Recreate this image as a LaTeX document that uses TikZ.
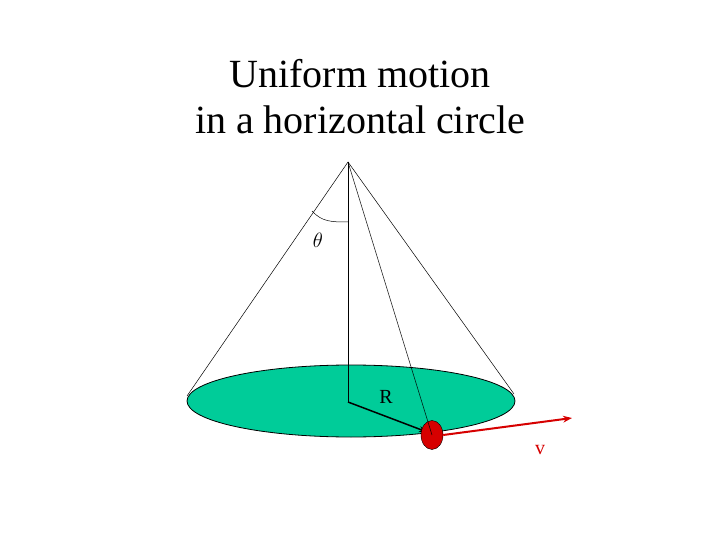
\documentclass[tikz,border=0pt]{standalone}
\usepackage{fontspec}
\setmainfont{Liberation Serif}
\usetikzlibrary{arrows.meta,shapes.geometric}
\definecolor{disk}{RGB}{0,204,153}
\definecolor{ballred}{RGB}{214,0,0}
\tikzset{thinline/.style={line width=0.5pt},lbl/.style={font=\fontsize{20}{20}\selectfont}}
\begin{document}
\begin{tikzpicture}[x=1pt,y=-1pt]
\useasboundingbox (0,0) rectangle (720,540);
\node[font=\fontsize{40}{46}\selectfont,align=center] (title) at (360,97) {Uniform motion\\in a horizontal circle};
\coordinate (apex) at (348,162);
\coordinate (ctr) at (348,402);
\coordinate (L) at (187,396);
\coordinate (Rt) at (514,394);
\draw[fill=disk,line width=0.8pt] (351,401) ellipse [x radius=164, y radius=36];
\draw[thinline] (apex) -- (L);
\draw[thinline] (apex) -- (Rt);
\draw[thinline] (apex) -- (ctr);
\draw[line width=1.5pt,-{Stealth[length=8pt]}] (ctr) -- (427,432);
\node[draw=black,fill=ballred,ellipse,minimum width=22pt,minimum height=29pt,inner sep=0pt] (ball) at (432,435) {};
\draw[thinline] (apex) -- (ball.center);
\draw[ballred,line width=2pt,-{Stealth[length=9pt]}] (ball.east) -- (572,418);
\draw[thinline] (312,211) .. controls (322,222) and (332,222) .. (348,222);
\node[lbl] (theta) at (318,240) {$\theta$};
\node[lbl] (rl) at (386,397) {R};
\node[lbl,ballred] (vl) at (540,450) {v};
\end{tikzpicture}
\end{document}
